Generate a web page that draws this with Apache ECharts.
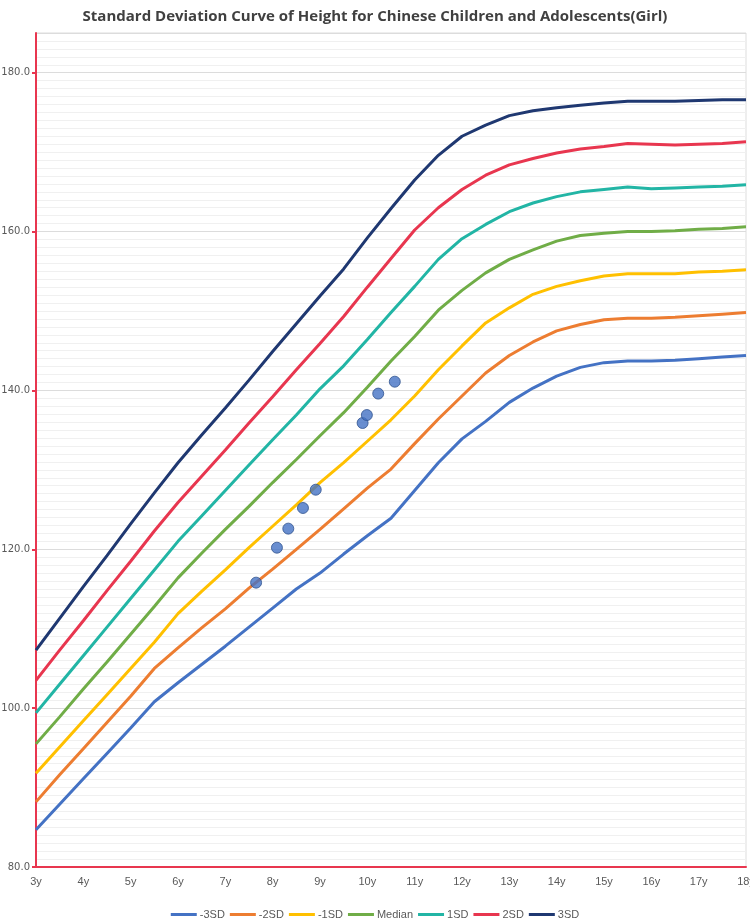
<!DOCTYPE html>
<html>
<head>
<meta charset="utf-8">
<title>Height SD curve (Girl)</title>
<script src="https://cdn.jsdelivr.net/npm/echarts@6/dist/echarts.min.js"></script>
<style>
  html, body { margin: 0; padding: 0; background: #fff; }
  #chart { width: 750px; height: 920px; }
</style>
</head>
<body>
<div id="chart"></div>
<script>
// 年龄（半岁一个点）
var ages = [3, 3.5, 4, 4.5, 5, 5.5, 6, 6.5, 7, 7.5, 8, 8.5, 9, 9.5, 10, 10.5,
    11, 11.5, 12, 12.5, 13, 13.5, 14, 14.5, 15, 15.5, 16, 16.5, 17, 17.5, 18];

var sdMinus3 = [84.7, 87.9, 91.1, 94.3, 97.5, 100.8, 103.2, 105.5, 107.8, 110.2, 112.6, 115.0, 117.0, 119.4, 121.7, 123.9,
    127.4, 130.9, 133.9, 136.1, 138.5, 140.3, 141.8, 142.9, 143.5, 143.7, 143.7, 143.8, 144.0, 144.2, 144.4];
var sdMinus2 = [88.2, 91.6, 94.9, 98.2, 101.5, 105.0, 107.6, 110.1, 112.5, 115.1, 117.5, 120.0, 122.5, 125.1, 127.7, 130.1,
    133.3, 136.4, 139.3, 142.2, 144.4, 146.1, 147.5, 148.3, 148.9, 149.1, 149.1, 149.2, 149.4, 149.6, 149.8];
var sdMinus1 = [91.8, 95.1, 98.4, 101.7, 105.0, 108.3, 111.9, 114.7, 117.4, 120.2, 122.9, 125.6, 128.4, 130.9, 133.6, 136.3,
    139.3, 142.6, 145.6, 148.5, 150.4, 152.1, 153.1, 153.8, 154.4, 154.7, 154.7, 154.7, 154.9, 155.0, 155.2];
var median = [95.5, 98.9, 102.4, 105.8, 109.3, 112.8, 116.4, 119.5, 122.5, 125.4, 128.4, 131.3, 134.3, 137.2, 140.4, 143.7,
    146.8, 150.1, 152.6, 154.8, 156.5, 157.7, 158.8, 159.5, 159.8, 160.0, 160.0, 160.1, 160.3, 160.4, 160.6];
var sdPlus1 = [99.4, 103.0, 106.6, 110.2, 113.8, 117.4, 121.0, 124.2, 127.4, 130.6, 133.8, 136.9, 140.2, 143.1, 146.4, 149.8,
    153.1, 156.5, 159.1, 160.9, 162.5, 163.6, 164.4, 165.0, 165.3, 165.6, 165.4, 165.5, 165.6, 165.7, 165.9];
var sdPlus2 = [103.5, 107.3, 111.0, 114.8, 118.5, 122.3, 125.9, 129.2, 132.5, 135.9, 139.2, 142.6, 145.9, 149.3, 153.0, 156.6,
    160.2, 163.0, 165.3, 167.1, 168.4, 169.2, 169.9, 170.4, 170.7, 171.1, 171.0, 170.9, 171.0, 171.1, 171.3];
var sdPlus3 = [107.3, 111.3, 115.3, 119.2, 123.2, 127.1, 130.9, 134.4, 137.8, 141.3, 144.9, 148.4, 151.9, 155.3, 159.2, 162.9,
    166.5, 169.6, 172.0, 173.4, 174.6, 175.2, 175.6, 175.9, 176.2, 176.4, 176.4, 176.4, 176.5, 176.6, 176.6];

// 孩子的实测身高
var childAges = [7.65, 8.09, 8.33, 8.64, 8.91, 9.90, 9.99, 10.23, 10.58];
var childHeights = [115.8, 120.2, 122.6, 125.2, 127.5, 135.9, 136.9, 139.6, 141.1];

var curveNames = ['-3SD', '-2SD', '-1SD', 'Median', '1SD', '2SD', '3SD'];
var curveData = [sdMinus3, sdMinus2, sdMinus1, median, sdPlus1, sdPlus2, sdPlus3];
var curveColors = ['#4472C4', '#ED7D31', '#FFC000', '#70AD47', '#22B5A5', '#E8364F', '#1F3871'];

var myChart = echarts.init(document.getElementById('chart'));

function pairs(xs, ys) {
    return xs.map(function (x, i) { return [x, ys[i]]; });
}

var series = curveNames.map(function (name, i) {
    return {
        name: name,
        type: 'line',
        data: pairs(ages, curveData[i]),
        showSymbol: false,
        symbol: 'none',
        lineStyle: { color: curveColors[i], width: 3 },
        itemStyle: { color: curveColors[i] },
        z: 2
    };
});

series.push({
    name: 'Child',
    type: 'scatter',
    data: pairs(childAges, childHeights),
    symbolSize: 11,
    itemStyle: { color: '#4472C4', borderColor: '#2F528F', borderWidth: 1 },
    z: 5
});

var option = {
    backgroundColor: '#fff',
    animation: false,
    title: {
        text: 'Standard Deviation Curve of Height for Chinese Children and Adolescents(Girl)',
        left: 'center',
        top: 4,
        textStyle: {
            fontFamily: '"Open Sans", sans-serif',
            fontSize: 15,
            fontWeight: 'bold',
            color: '#404040'
        }
    },
    legend: {
        data: curveNames,
        top: 904,
        left: 'center',
        icon: 'rect',
        itemWidth: 26,
        itemHeight: 3,
        itemGap: 5,
        textStyle: { fontFamily: '"Liberation Sans", sans-serif', fontSize: 11, color: '#595959', padding: [0, 0, 0, -2] }
    },
    grid: {
        left: 36,
        right: 4,
        top: 33,
        bottom: 53,
        outerBoundsMode: 'none',
        containLabel: false,
        show: true,
        borderColor: '#dddddd',
        borderWidth: 1
    },
    xAxis: {
        type: 'value',
        min: 3,
        max: 18,
        interval: 1,
        axisLine: { lineStyle: { color: '#E8364F', width: 2 } },
        axisTick: { show: false },
        splitLine: { show: false },
        axisLabel: {
            margin: 9,
            color: '#595959',
            fontFamily: '"Liberation Sans", sans-serif',
            fontSize: 11,
            formatter: function (v) { return v + 'y'; }
        }
    },
    yAxis: {
        type: 'value',
        min: 80,
        max: 185,
        interval: 20,
        axisLine: { show: true, lineStyle: { color: '#E8364F', width: 2 } },
        axisTick: { show: true, length: 4, lineStyle: { color: '#E8364F', width: 2 } },
        axisLabel: {
            showMaxLabel: false,
            margin: 6,
            color: '#595959',
            fontFamily: '"DejaVu Sans", sans-serif',
            fontSize: 10,
            formatter: function (v) { return v.toFixed(1); }
        },
        splitLine: { lineStyle: { color: '#dcdcdc', width: 1 } },
        minorTick: { show: false, splitNumber: 20 },
        minorSplitLine: { show: true, lineStyle: { color: '#f0f0f0', width: 1 } }
    },
    series: series
};

myChart.setOption(option);
</script>
</body>
</html>
